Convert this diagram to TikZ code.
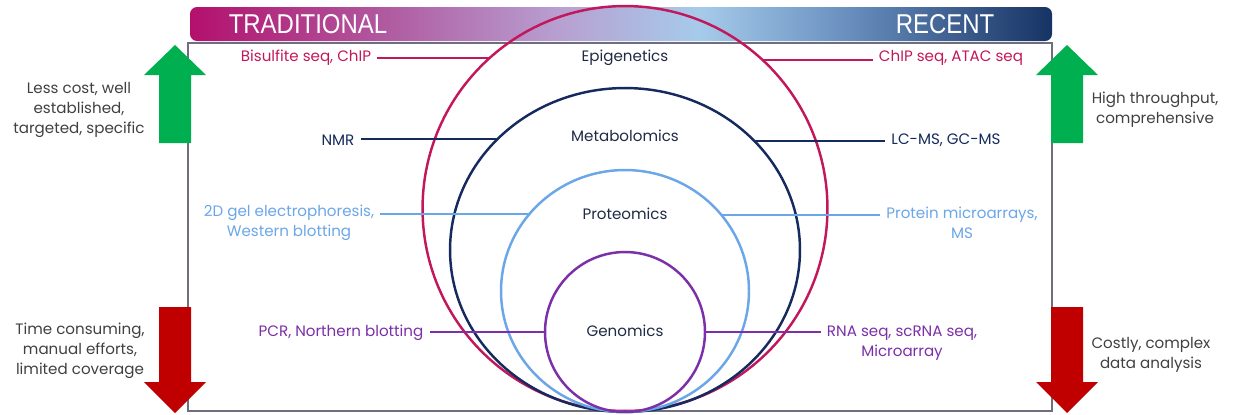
\documentclass[tikz,border=0pt]{standalone}
\usepackage{fontspec}
\setmainfont{Poppins}
\newfontfamily\headfont[FakeStretch=0.88]{Liberation Sans}
\usepackage{xcolor}
\usepackage{tikz}
\usetikzlibrary{positioning,shapes.geometric}
\definecolor{omepink}{HTML}{C2185B}
\definecolor{omenavy}{HTML}{152A5E}
\definecolor{omeblue}{HTML}{6AA6E8}
\definecolor{omepurple}{HTML}{7B2FA8}
\definecolor{omegreen}{HTML}{00B050}
\definecolor{omered}{HTML}{C00000}
\definecolor{omegray}{HTML}{404040}
\definecolor{omeframe}{HTML}{6E6E7E}
\definecolor{omedark}{HTML}{1F2A44}
\definecolor{hdA}{HTML}{B3106C}
\definecolor{hdB}{HTML}{B0589F}
\definecolor{hdC}{HTML}{B7A0D2}
\definecolor{hdD}{HTML}{A6CBEA}
\definecolor{hdE}{HTML}{6A90C0}
\definecolor{hdF}{HTML}{163364}
\pgfdeclarehorizontalshading{headshade}{100bp}{color(0bp)=(hdA); color(25bp)=(hdA); color(36bp)=(hdB); color(46.5bp)=(hdC); color(54.5bp)=(hdD); color(63bp)=(hdE); color(75bp)=(hdF); color(100bp)=(hdF)}

\begin{document}
\begin{tikzpicture}[
  x=0.02cm, y=-0.02cm,
  lbl/.style={font=\fontsize{8.6}{11.4}\selectfont, align=center},
  note/.style={lbl, text=omegray},
  ring/.style={draw, line width=1.4pt, inner sep=0pt, outer sep=0pt},
  link/.style={line width=1.1pt},
  head/.style={font=\headfont\fontsize{15.5}{16}\selectfont, text=white}
]
\useasboundingbox (0,0) rectangle (1236,414);
% frame and header
\draw[omeframe, line width=1pt] (188,43) rectangle (1052,411);
\shade[shading=headshade, rounded corners=4pt] (190,7) rectangle (1052,41);
\node[head] (trad) at (308,24) {TRADITIONAL};
\node[head] (recent) at (945,24) {RECENT};
% block arrows
\fill[omegreen] (159,143) -- (159,75) -- (144,75) -- (175,45) -- (206,75) -- (191,75) -- (191,143) -- cycle;
\fill[omered] (159,307) -- (191,307) -- (191,382) -- (206,382) -- (175,413) -- (144,382) -- (159,382) -- cycle;
\fill[omegreen] (1051,143) -- (1051,75) -- (1036,75) -- (1067,45) -- (1098,75) -- (1083,75) -- (1083,143) -- cycle;
\fill[omered] (1051,307) -- (1083,307) -- (1083,382) -- (1098,382) -- (1067,413) -- (1036,382) -- (1051,382) -- cycle;
\node[note] (lesscost) at (79,110) {Less cost, well\\established,\\targeted, specific};
\node[note] (timecons) at (80,351) {Time consuming,\\manual efforts,\\limited coverage};
\node[note] (highthru) at (1155,110) {High throughput,\\comprehensive};
\node[note] (costly) at (1151,355) {Costly, complex\\data analysis};
% omics rings
\node[ring, circle, omepink, minimum size=8.1cm] (epi) at (625,208.5) {};
\node[ring, ellipse, omenavy, minimum width=7cm, minimum height=6.48cm] (meta) at (625,250) {};
\node[ring, ellipse, omeblue, minimum width=4.96cm, minimum height=4.84cm] (prot) at (625,291) {};
\node[ring, circle, omepurple, minimum size=3.2cm] (geno) at (625,332) {};
\node[lbl, text=omedark] (epilbl) at (625,58) {Epigenetics};
\node[lbl, text=omedark] (metalbl) at (625,136) {Metabolomics};
\node[lbl, text=omedark] (protlbl) at (625,214) {Proteomics};
\node[lbl, text=omedark] (genolbl) at (625,331) {Genomics};
% methods
\node[lbl, text=omepink] (bisulfite) at (306,58) {Bisulfite seq, ChIP};
\node[lbl, text=omepink] (atac) at (951,58) {ChIP seq, ATAC seq};
\node[lbl, text=omenavy] (nmr) at (338,140) {NMR};
\node[lbl, text=omenavy] (lcms) at (946,140) {LC-MS, GC-MS};
\node[lbl, text=omeblue] (gel) at (289,223) {2D gel electrophoresis,\\Western blotting};
\node[lbl, text=omeblue] (array) at (962,223) {Protein microarrays,\\MS};
\node[lbl, text=omepurple] (pcr) at (341,333) {PCR, Northern blotting};
\node[lbl, text=omepurple] (rnaseq) at (902,343) {RNA seq, scRNA seq,\\Microarray};
\draw[link, omepink] (epi.132.8 -| bisulfite.east) -- (epi.132.8);
\draw[link, omepink] (epi.47.2) -- (epi.47.2 -| atac.west);
\draw[link, omenavy] (meta.139.4 -| nmr.east) -- (meta.139.4);
\draw[link, omenavy] (meta.40.6) -- (meta.40.6 -| lcms.west);
\draw[link, omeblue] (prot.141.2 -| gel.east) -- (prot.141.2);
\draw[link, omeblue] (prot.38.8) -- (prot.38.8 -| array.west);
\draw[link, omepurple] (geno.180 -| pcr.east) -- (geno.180);
\draw[link, omepurple] (geno.0) -- (geno.0 -| rnaseq.west);
\end{tikzpicture}
\end{document}
